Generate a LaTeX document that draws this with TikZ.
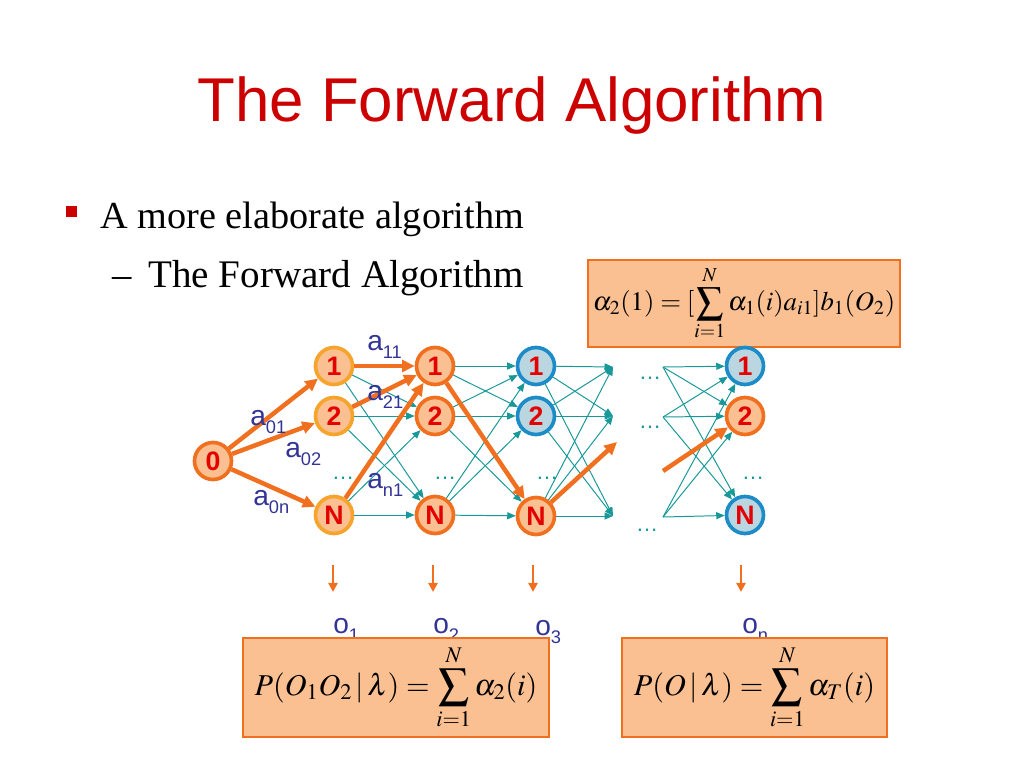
\documentclass[tikz,border=0pt]{standalone}
\usepackage{mathptmx}
\usepackage[no-math]{fontspec}
\setmainfont{Liberation Serif}
\setsansfont{Liberation Sans}
\usetikzlibrary{arrows.meta}

\definecolor{titlered}{RGB}{204,0,0}
\definecolor{digitred}{RGB}{228,0,0}
\definecolor{deeporange}{RGB}{240,112,32}
\definecolor{paleorange}{RGB}{246,164,44}
\definecolor{peachfill}{RGB}{250,192,145}
\definecolor{coolblue}{RGB}{28,140,200}
\definecolor{coolfill}{RGB}{186,214,224}
\definecolor{fanteal}{RGB}{24,152,152}
\definecolor{labelblue}{RGB}{50,52,150}

\newcommand{\lowidx}[1]{\raisebox{-0.3em}{\fontsize{13}{13}\selectfont #1}}

\begin{document}
\begin{tikzpicture}[x=0.25mm,y=-0.25mm,
    state/.style={circle,line width=2.6pt,minimum size=9.25mm,inner sep=0pt,
      font=\sffamily\bfseries\fontsize{19}{19}\selectfont,text=digitred},
    peach/.style={state,draw=deeporange,fill=peachfill},
    pale/.style={state,draw=paleorange,fill=peachfill},
    cool/.style={state,draw=coolblue,fill=coolfill},
    fan/.style={draw=fanteal,line width=0.7pt,-{Triangle[length=6pt,width=5pt]}},
    best/.style={draw=deeporange,line width=3.2pt,-{Triangle[length=9pt,width=8.5pt]}},
    drop/.style={draw=deeporange,line width=1.8pt,-{Triangle[length=6.5pt,width=6.5pt]}},
    prob/.style={anchor=base west,inner sep=0pt,text=labelblue,
      font=\sffamily\fontsize{20}{20}\selectfont},
    etc/.style={inner sep=0pt,text=fanteal,font=\sffamily\fontsize{16}{16}\selectfont},
    formbox/.style={draw=deeporange,line width=2.1pt,fill=peachfill,inner sep=0pt},
  ]
  \useasboundingbox (0,0) rectangle (1024,768);

  \node[anchor=base,inner sep=0pt,text=titlered,font=\sffamily\fontsize{44}{44}\selectfont]
    (title) at (512,121) {The Forward Algorithm};
  \node[fill=titlered,minimum size=2.75mm,inner sep=0pt] (bullet) at (71.5,211.5) {};
  \node[anchor=base west,inner sep=0pt,font=\fontsize{27.2}{33}\selectfont]
    (item) at (100,228) {A more elaborate algorithm};
  \node[anchor=base west,inner sep=0pt,font=\fontsize{27.5}{33}\selectfont]
    (dash) at (112,287) {--};
  \node[anchor=base west,inner sep=0pt,font=\fontsize{27.8}{33}\selectfont]
    (subitem) at (148,287) {The Forward Algorithm};

  \node[formbox,minimum width=78mm,minimum height=21.75mm,font=\fontsize{19}{23}\selectfont]
    (alpha) at (744,303.5)
    {$\displaystyle \alpha_2(1)=[\sum_{i=1}^{N}\alpha_1(i)a_{i1}]b_1(O_2)$};

  \node[peach] (s0) at (213,461) {0};
  \node[pale] (a1) at (334,366) {1};
  \node[pale] (a2) at (334,416) {2};
  \node[pale] (an) at (334,515) {N};
  \node[peach] (b1) at (435,366) {1};
  \node[peach] (b2) at (435,416) {2};
  \node[peach] (bn) at (435,515) {N};
  \node[cool] (c1) at (536,366) {1};
  \node[cool] (c2) at (536,416) {2};
  \node[peach] (cn) at (536,516) {N};
  \node[cool] (d1) at (745,366) {1};
  \node[peach] (d2) at (745,416) {2};
  \node[cool] (dn) at (745,515) {N};

  \coordinate (t1) at (613,367);
  \coordinate (t2) at (613,416);
  \coordinate (tn) at (613,516);
  \coordinate (u1) at (663,367);
  \coordinate (u2) at (663,417);
  \coordinate (un) at (663,517);
  \coordinate (tm) at (617,442);
  \coordinate (um) at (663,471);

  \node[etc] (dotsa) at (343,478) {\ldots};
  \node[etc] (dotsb) at (445,478) {\ldots};
  \node[etc] (dotsc) at (547,478) {\ldots};
  \node[etc] (dotsd) at (753,478) {\ldots};
  \node[etc] (gap1) at (650,378) {\ldots};
  \node[etc] (gap2) at (650,427) {\ldots};
  \node[etc] (gapn) at (647,530) {\ldots};

  \path (a1) edge[fan] (b2) edge[fan] (bn);
  \path (a2) edge[fan] (b2) edge[fan] (bn);
  \path (an) edge[fan] (b2) edge[fan] (bn);
  \path (b1) edge[fan] (c1) edge[fan] (c2);
  \path (b2) edge[fan] (c1) edge[fan] (c2) edge[fan] (cn);
  \path (bn) edge[fan] (c1) edge[fan] (c2) edge[fan] (cn);
  \path (c1) edge[fan] (t1) edge[fan] (t2) edge[fan] (tn);
  \path (c2) edge[fan] (t1) edge[fan] (t2) edge[fan] (tn);
  \path (cn) edge[fan] (t1) edge[fan] (t2) edge[fan] (tn);
  \path (u1) edge[fan] (d1) edge[fan] (d2) edge[fan] (dn);
  \path (u2) edge[fan] (d1) edge[fan] (d2) edge[fan] (dn);
  \path (un) edge[fan] (d1) edge[fan] (d2) edge[fan] (dn);

  \path (s0) edge[best] (a1) edge[best] (a2) edge[best] (an);
  \path (a1) edge[best] (b1);
  \path (a2) edge[best] (b1);
  \path (an) edge[best] (b1);
  \path (b1) edge[best] (cn);
  \path (cn) edge[best] (tm);
  \path (um) edge[best] (d2);

  \node[prob] (p01) at (250,425) {a\lowidx{01}};
  \node[prob] (p02) at (285,457) {a\lowidx{02}};
  \node[prob] (p0n) at (253,505) {a\lowidx{0n}};
  \node[prob] (p11) at (367,350) {a\lowidx{11}};
  \node[prob] (p21) at (367,400) {a\lowidx{21}};
  \node[prob] (pn1) at (367,488) {a\lowidx{n1}};

  \coordinate (top1) at (333,565);
  \coordinate (top2) at (433,565);
  \coordinate (top3) at (533,565);
  \coordinate (topn) at (741,565);
  \coordinate (end1) at (333,592);
  \coordinate (end2) at (433,592);
  \coordinate (end3) at (533,592);
  \coordinate (endn) at (741,592);
  \draw[drop] (top1) -- (end1);
  \draw[drop] (top2) -- (end2);
  \draw[drop] (top3) -- (end3);
  \draw[drop] (topn) -- (endn);

  \node[prob] (o1) at (333,633) {o\lowidx{1}};
  \node[prob] (o2) at (433,633) {o\lowidx{2}};
  \node[prob] (o3) at (535,635) {o\lowidx{3}};
  \node[prob] (on) at (742,633) {o\lowidx{n}};

  \node[formbox,minimum width=76.5mm,minimum height=24.75mm,font=\fontsize{21.5}{25}\selectfont]
    (pleft) at (396,687.5)
    {$\displaystyle P(O_1O_2\,|\,\lambda)=\sum_{i=1}^{N}\alpha_2(i)$};
  \node[formbox,minimum width=66.25mm,minimum height=24.75mm,font=\fontsize{21.5}{25}\selectfont]
    (pright) at (754.5,687.5)
    {$\displaystyle P(O\,|\,\lambda)=\sum_{i=1}^{N}\alpha_T(i)$};

\end{tikzpicture}
\end{document}
